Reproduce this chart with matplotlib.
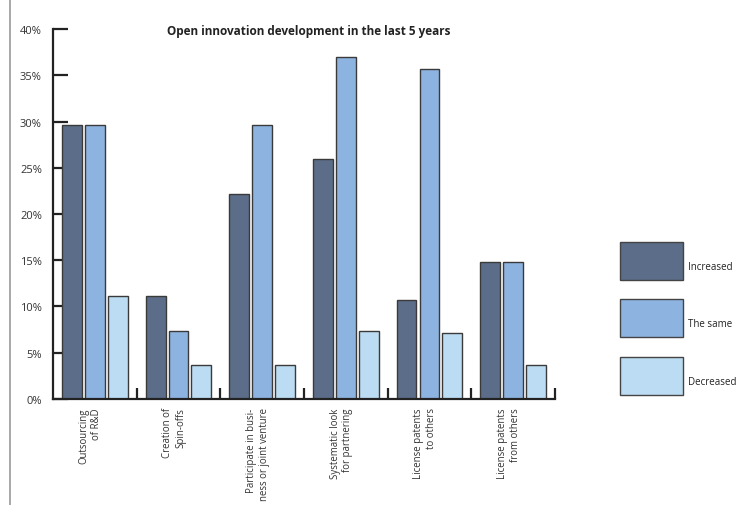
import matplotlib.pyplot as plt
import numpy as np
from matplotlib.patches import Rectangle
from matplotlib.lines import Line2D

# ── Data ──────────────────────────────────────────────────────────────────────
categories = [
    "Outsourcing\nof R&D",
    "Creation of\nSpin-offs",
    "Participate in busi-\nness or joint venture",
    "Systematic look\nfor partnering",
    "License patents\nto others",
    "License patents\nfrom others",
]
increased = [29.6, 11.1, 22.2, 25.9, 10.7, 14.8]
the_same = [29.6, 7.4, 29.6, 37.0, 35.7, 14.8]
decreased = [11.1, 3.7, 3.7, 7.4, 7.1, 3.7]
series_names = ["Increased", "The same", "Decreased"]
colors = ["#5b6d88", "#8db3e0", "#bcdcf3"]
yticks = [0, 5, 10, 15, 20, 25, 30, 35, 40]
# ─────────────────────────────────────────────────────────────────────────────

plt.rcParams["font.family"] = ["Open Sans", "DejaVu Sans"]

fig = plt.figure(figsize=(7.36, 5.06), dpi=100)
ax = fig.add_axes([0.072, 0.2095, 0.682, 0.7312])

x = np.arange(len(categories))
width = 0.238
step = 0.274
for k, vals in enumerate([increased, the_same, decreased]):
    ax.bar(x + (k - 1) * step, vals, width, color=colors[k],
           edgecolor="#3a3a3a", linewidth=1.0, zorder=2)

ax.set_xlim(-0.5, 5.5)
ax.set_ylim(0, 40)
ax.spines["top"].set_visible(False)
ax.spines["right"].set_visible(False)
for s in ("left", "bottom"):
    ax.spines[s].set_linewidth(1.6)
    ax.spines[s].set_color("#222222")

ax.set_yticks(yticks)
ax.set_yticklabels([f"{v}%" for v in yticks], fontsize=8, color="#333333")
ax.tick_params(axis="y", direction="in", length=11, width=1.6, color="#222222", pad=8)

ax.set_xticks(x - 0.05)
ax.set_xticklabels(categories, rotation=90, fontsize=6.9, color="#333333",
                   va="top", ha="center", multialignment="right",
                   linespacing=1.2)
ax.tick_params(axis="x", which="major", length=0, pad=6)
ax.set_xticks(np.arange(0.5, 6, 1.0), minor=True)
ax.tick_params(axis="x", which="minor", direction="in", length=8, width=1.6,
               color="#222222")

fig.text(0.42, 0.938, "Open innovation development in the last 5 years",
         ha="center", va="center", fontsize=8.5, fontweight="bold", color="#222222")

# legend drawn as boxes on the right
box_tops = [243, 300, 358]
for k, name in enumerate(series_names):
    y0 = 1 - (box_tops[k] + 38) / 506
    fig.patches.append(Rectangle((620 / 736, y0), 63 / 736, 38 / 506,
                                 transform=fig.transFigure, facecolor=colors[k],
                                 edgecolor="#444444", linewidth=1.0))
    fig.text(688 / 736, 1 - (box_tops[k] + 25) / 506, name, fontsize=7,
             color="#222222", va="center", ha="left")

# thin border line on the left
fig.lines.append(Line2D([10 / 736, 10 / 736], [0, 1], transform=fig.transFigure,
                        color="#999999", linewidth=1.2))

fig.savefig("out.png", dpi=100)
